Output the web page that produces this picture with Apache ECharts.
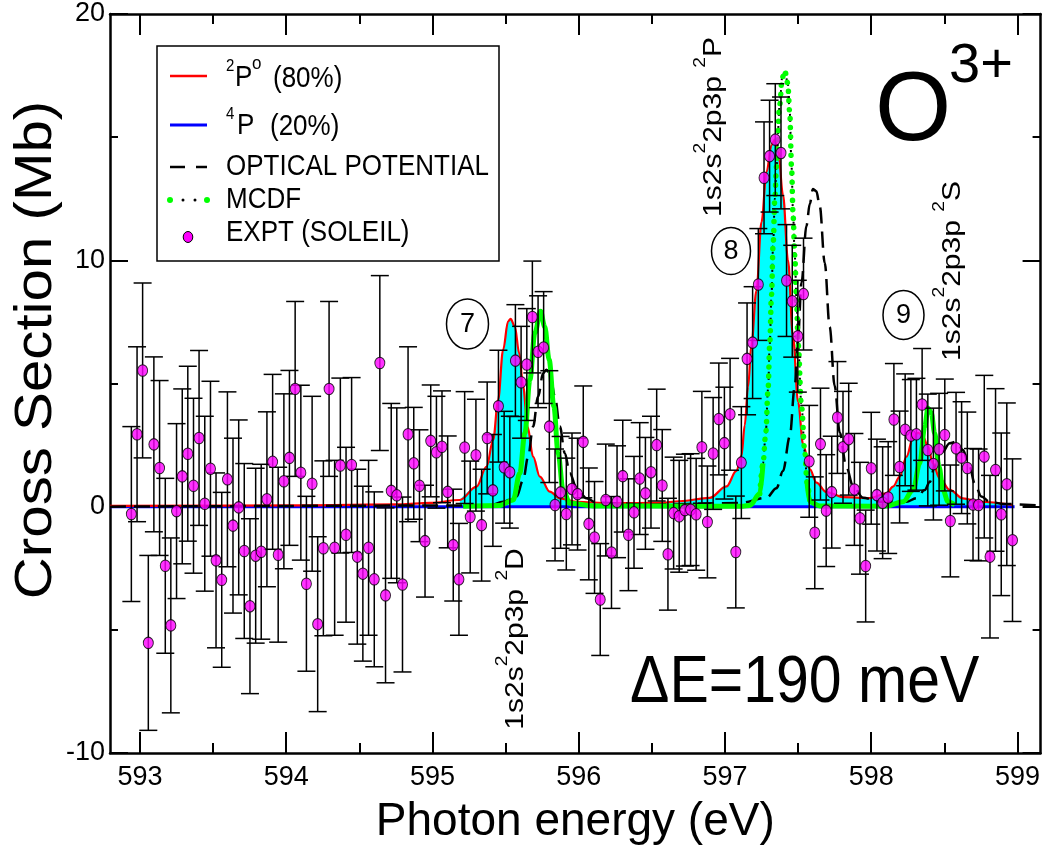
<!DOCTYPE html>
<html>
<head>
<meta charset="utf-8">
<script src="https://cdn.jsdelivr.net/npm/echarts@6/dist/echarts.min.js"></script>
<style>
  html, body { margin: 0; padding: 0; background: #fff; }
  #main { width: 1043px; height: 850px; }
</style>
</head>
<body>
<div id="main"></div>
<script>
// photon energy grid of the SOLEIL measurement (eV)
const energy = [
  592.941, 592.980, 593.018, 593.057, 593.095, 593.134, 593.173, 593.211, 593.250, 593.289,
  593.327, 593.366, 593.404, 593.443, 593.482, 593.520, 593.559, 593.598, 593.636, 593.675,
  593.713, 593.752, 593.791, 593.829, 593.868, 593.907, 593.945, 593.984, 594.022, 594.061,
  594.100, 594.138, 594.177, 594.215, 594.254, 594.293, 594.331, 594.370, 594.409, 594.447,
  594.486, 594.524, 594.563, 594.602, 594.640, 594.679, 594.718, 594.756, 594.795, 594.833,
  594.872, 594.911, 594.949, 594.988, 595.027, 595.065, 595.104, 595.142, 595.181, 595.220,
  595.258, 595.297, 595.336, 595.374, 595.413, 595.451, 595.490, 595.529, 595.567, 595.606,
  595.645, 595.683, 595.722, 595.760, 595.799, 595.838, 595.876, 595.915, 595.954, 595.992,
  596.031, 596.069, 596.108, 596.147, 596.185, 596.224, 596.262, 596.301, 596.340, 596.378,
  596.417, 596.456, 596.494, 596.533, 596.571, 596.610, 596.649, 596.687, 596.726, 596.765,
  596.803, 596.842, 596.880, 596.919, 596.958, 596.996, 597.035, 597.074, 597.112, 597.151,
  597.189, 597.228, 597.267, 597.305, 597.344, 597.383, 597.421, 597.460, 597.498, 597.537,
  597.576, 597.614, 597.653, 597.692, 597.730, 597.769, 597.807, 597.846, 597.885, 597.923,
  597.962, 598.000, 598.039, 598.078, 598.116, 598.155, 598.194, 598.232, 598.271, 598.309,
  598.348, 598.387, 598.425, 598.464, 598.503, 598.541, 598.580, 598.618, 598.657, 598.696,
  598.734, 598.773, 598.812, 598.850, 598.889, 598.927, 598.966
]
// cross section (Mb)
const crossSection = [
  -0.30, 2.94, 5.53, -5.53, 2.53, 1.57, -2.40, -4.82, -0.18, 1.23,
  2.15, 0.85, 2.79, 0.12, 1.54, -2.18, -2.97, 1.11, -0.77, -0.03,
  -1.80, -4.04, -1.99, -1.83, 0.30, 1.82, -1.95, 1.03, 1.98, 4.78,
  1.38, -3.13, 0.93, -4.77, -1.69, 4.78, -1.67, 1.67, -1.14, 1.69,
  -2.03, -2.72, -1.67, -2.95, 5.83, -3.60, 0.64, 0.46, -3.16, 2.94,
  1.76, 0.85, -1.40, 2.67, 2.21, 2.43, 0.60, -1.56, -2.95, 2.40,
  -0.42, 2.09, -0.75, 2.79, 0.66, 4.08, 1.60, 1.40, 5.93, 5.05,
  5.77, 7.70, 6.29, 6.46, 3.25, 0.07, 0.58, -0.30, 0.72, 0.51,
  2.63, -0.70, -1.25, -3.77, 0.27, -1.86, 0.20, 1.24, -1.14, -0.23,
  1.14, 0.54, 1.40, 2.50, 0.86, -1.93, -0.26, -0.39, -0.14, -0.12,
  -0.31, 2.41, -0.62, 2.16, 3.56, 2.58, 3.75, -1.84, 1.79, 6.00,
  6.66, 9.02, 13.35, 14.23, 14.90, 14.36, 9.18, 8.34, 6.92, 8.63,
  1.84, -1.06, 2.54, -0.16, 0.59, 3.62, 2.41, 2.74, 0.70, -0.47,
  -2.41, 1.56, 0.47, 0.16, 0.37, 3.54, 1.61, 3.12, 2.89, 2.94,
  4.15, 2.30, 1.73, 2.33, 2.91, -0.58, 2.37, 1.99, 1.57, 0.09,
  0.07, 2.03, -2.03, 1.49, -0.31, 0.91, -1.36
]
// half height of the error bars (Mb)
const errorBar = [
  3.55, 3.55, 3.55, 3.55, 3.55, 3.55, 3.55, 3.55, 3.55, 3.55,
  3.55, 3.55, 3.55, 3.55, 3.55, 3.55, 3.55, 3.55, 3.55, 3.55,
  3.55, 3.55, 3.55, 3.55, 3.55, 3.55, 3.55, 3.55, 3.55, 3.55,
  3.55, 3.55, 3.55, 3.55, 3.55, 3.55, 3.55, 3.55, 3.55, 3.55,
  3.55, 3.55, 3.55, 3.55, 3.55, 3.55, 3.55, 3.55, 3.55, 3.55,
  2.27, 2.27, 2.27, 2.27, 2.27, 2.27, 2.27, 2.27, 2.27, 2.27,
  2.27, 2.27, 2.27, 2.27, 2.27, 2.27, 2.27, 2.27, 2.27, 2.27,
  2.27, 2.27, 2.27, 2.27, 2.27, 2.27, 2.27, 2.27, 2.27, 2.27,
  2.27, 2.27, 2.27, 2.27, 2.27, 2.27, 2.27, 2.27, 2.27, 2.27,
  2.27, 2.27, 2.27, 2.27, 2.27, 2.27, 2.27, 2.27, 2.27, 2.27,
  2.27, 2.27, 2.27, 2.27, 2.27, 2.27, 2.27, 2.27, 2.27, 2.27,
  2.27, 2.27, 2.27, 2.27, 2.27, 2.27, 2.27, 2.27, 2.27, 2.27,
  2.27, 2.27, 2.27, 2.27, 2.27, 2.27, 2.27, 2.27, 2.27, 2.27,
  2.27, 2.27, 2.27, 2.27, 2.27, 2.27, 2.27, 2.27, 2.27, 2.27,
  2.27, 2.27, 2.27, 2.27, 2.27, 2.27, 2.27, 2.27, 2.27, 2.27,
  2.27, 3.30, 3.30, 3.30, 3.30, 3.30, 3.30
]

// theory curves, [eV, Mb]
const red2P = [
  [592.795, 0.03], [594.094, 0.05], [594.777, 0.09], [594.982, 0.15], [595.187, 0.27],
  [595.301, 0.81], [595.370, 1.63], [595.415, 2.71], [595.449, 4.34], [595.483, 6.37],
  [595.517, 7.52], [595.534, 7.62], [595.563, 7.32], [595.593, 6.23], [595.620, 4.88],
  [595.650, 3.25], [595.688, 2.03], [595.734, 1.22], [595.802, 0.61], [595.871, 0.34],
  [595.985, 0.20], [596.213, 0.14], [596.554, 0.15], [596.691, 0.22], [596.896, 0.36],
  [597.010, 0.82], [597.078, 1.45], [597.113, 2.07], [597.135, 3.30], [597.158, 4.87],
  [597.181, 6.58], [597.215, 8.76], [597.250, 11.56], [597.284, 13.58], [597.318, 14.67],
  [597.340, 14.90], [597.363, 14.50], [597.397, 12.65], [597.431, 10.00], [597.465, 6.90],
  [597.500, 4.25], [597.534, 2.54], [597.580, 1.52], [597.625, 0.98], [597.694, 0.59],
  [597.807, 0.39], [597.990, 0.35], [598.104, 0.54], [598.149, 0.81], [598.195, 1.22],
  [598.241, 2.03], [598.286, 2.80], [598.320, 3.00], [598.354, 2.85], [598.388, 2.44],
  [598.422, 1.76], [598.468, 1.15], [598.537, 0.68], [598.627, 0.34], [598.742, 0.20],
  [598.967, 0.07]
]
const blue4P = [[592.795, 0.0], [598.980, 0.0]]
const optical = [
  [592.795, 0.00], [595.392, 0.05], [595.483, 0.20], [595.575, 0.41], [595.620, 1.08],
  [595.654, 2.03], [595.688, 3.25], [595.722, 4.47], [595.757, 5.42], [595.780, 5.56],
  [595.807, 5.28], [595.837, 4.47], [595.871, 3.25], [595.905, 2.17], [595.939, 1.36],
  [595.985, 0.75], [596.053, 0.34], [596.122, 0.16], [596.486, 0.08], [597.101, 0.15],
  [597.284, 0.36], [597.352, 0.75], [597.397, 1.45], [597.443, 2.85], [597.477, 4.87],
  [597.500, 6.90], [597.523, 9.08], [597.557, 11.40], [597.580, 12.30], [597.602, 12.90],
  [597.625, 12.80], [597.648, 12.20], [597.682, 9.90], [597.716, 7.30], [597.750, 4.90],
  [597.785, 3.00], [597.830, 1.60], [597.876, 0.83], [597.944, 0.36], [598.058, 0.20],
  [598.241, 0.20], [598.309, 0.34], [598.366, 0.68], [598.400, 1.00], [598.434, 1.63],
  [598.480, 2.17], [598.537, 2.57], [598.583, 2.64], [598.627, 2.30], [598.673, 1.63],
  [598.707, 0.95], [598.753, 0.41], [598.810, 0.20], [598.901, 0.11], [599.158, 0.05]
]
const mcdf = [
  [595.210, 0.02], [595.461, 0.05], [595.552, 0.27], [595.597, 1.36], [595.632, 2.98],
  [595.666, 5.15], [595.700, 7.05], [595.739, 7.93], [595.768, 7.30], [595.798, 5.96],
  [595.830, 4.07], [595.859, 2.17], [595.893, 0.68], [595.939, 0.14], [596.098, 0.03],
  [596.828, 0.02], [597.124, 0.02], [597.169, 0.05], [597.238, 0.52], [597.260, 1.76],
  [597.279, 3.00], [597.295, 4.80], [597.306, 6.60], [597.318, 8.60], [597.329, 10.60],
  [597.341, 12.50], [597.352, 13.80], [597.374, 16.30], [597.391, 17.40], [597.409, 17.70],
  [597.429, 17.20], [597.443, 16.00], [597.455, 13.80], [597.466, 11.80], [597.477, 10.20],
  [597.490, 8.30], [597.500, 6.60], [597.523, 4.10], [597.546, 2.22], [597.561, 0.99],
  [597.580, 0.20], [597.648, 0.03], [597.990, 0.02], [598.104, 0.03], [598.218, 0.20],
  [598.286, 0.68], [598.332, 1.76], [598.366, 3.25], [598.388, 4.00], [598.411, 3.80],
  [598.434, 2.98], [598.463, 1.63], [598.491, 0.68], [598.525, 0.20], [598.571, 0.07]
]

const xMajor = [593, 594, 595, 596, 597, 598, 599]
const xMinor = [593.5, 594.5, 595.5, 596.5, 597.5, 598.5]

const SANS = "'Liberation Sans', Arial, Helvetica, sans-serif"

const expt = energy.map((e, i) => [e, crossSection[i], errorBar[i]])
const cyanPart = red2P.filter(p => p[0] >= 595.18)
const mcdfLeft = mcdf.filter(p => p[0] <= 597.262)
const mcdfPeak = mcdf.filter(p => p[0] >= 597.238 && p[0] <= 597.581)
const mcdfRight = mcdf.filter(p => p[0] >= 597.561)

const X_MIN = 592.795, X_MAX = 599.158

const xAxisBase = (pos, ticks, len, withLine, withLabel) => ({
  type: 'value', position: pos, min: X_MIN, max: X_MAX,
  splitLine: {show: false},
  axisLine: {show: withLine, onZero: false, lineStyle: {color: '#000', width: 2.5}},
  axisTick: {show: true, inside: true, length: len, customValues: ticks, lineStyle: {color: '#000', width: 2}},
  axisLabel: withLabel
    ? {show: true, customValues: ticks, fontSize: 27, fontFamily: SANS, color: '#000', margin: 11}
    : {show: false}
})

const yAxisBase = (pos, withLabel) => ({
  type: 'value', position: pos, min: -10, max: 20, interval: 10,
  splitLine: {show: false},
  axisLine: {show: true, onZero: false, lineStyle: {color: '#000', width: 2.5}},
  axisTick: {show: true, inside: true, length: 18, lineStyle: {color: '#000', width: 2}},
  minorTick: {show: true, splitNumber: 2, length: 8, lineStyle: {color: '#000', width: 2}},
  axisLabel: withLabel
    ? {show: true, fontSize: 27, fontFamily: SANS, color: '#000', margin: 5}
    : {show: false}
})

const line = (data, color, width, extra) => Object.assign({
  type: 'line', data: data, showSymbol: false, symbol: 'none',
  smooth: 0.35, smoothMonotone: 'x', silent: true,
  lineStyle: {color: color, width: width}
}, extra || {})

// plain text; sy stretches it vertically a little like the original lettering
const txt = (x, y, text, size, sy, align) => ({
  type: 'text', x: x, y: y, scaleY: sy || 1, z: 20,
  style: {text: text, fontSize: size, fontFamily: SANS, fill: '#000', align: align || 'left', verticalAlign: 'middle'}
})

const stateLabel = (x, y, term) => ({
  type: 'text', x: x, y: y, rotation: Math.PI / 2, scaleX: 1.2, z: 20,
  style: {
    text: '{m|1s2s}{s|2}{m|2p3p }{s|2}{m|' + term + '}',
    align: 'center', verticalAlign: 'middle', fill: '#000',
    rich: {
      m: {fontSize: 25, fontFamily: SANS, verticalAlign: 'bottom', lineHeight: 34},
      s: {fontSize: 16, fontFamily: SANS, verticalAlign: 'top'}
    }
  }
})

const circled = (cx, cy, rx, ry, label) => [
  {type: 'ellipse', z: 19, shape: {cx: cx, cy: cy, rx: rx, ry: ry}, style: {fill: '#fff', stroke: '#000', lineWidth: 1.5}},
  txt(cx, cy + 1, label, 27, 1, 'center')
]

const chart = echarts.init(document.getElementById('main'))

chart.setOption({
  animation: false,
  backgroundColor: '#fff',
  grid: {left: 110, right: 2, top: 14, bottom: 96, containLabel: false},
  xAxis: [
    Object.assign(xAxisBase('bottom', xMajor, 21, true, true), {
      name: 'Photon energy (eV)', nameLocation: 'middle', nameGap: 46,
      nameTextStyle: {fontSize: 46, fontFamily: SANS, color: '#000'}
    }),
    xAxisBase('bottom', xMinor, 10, false, false),
    xAxisBase('top', xMajor, 21, true, false),
    xAxisBase('top', xMinor, 10, false, false)
  ],
  yAxis: [yAxisBase('left', true), yAxisBase('right', false)],
  series: [
    // cyan fill below the 2P curve
    line(cyanPart, '#00ffff', 0, {z: 1, areaStyle: {color: '#00ffff', opacity: 1}}),
    line(blue4P, '#0000ff', 3, {z: 2, smooth: false}),
    line(red2P, '#ff0000', 2.2, {z: 3}),
    line(optical, '#000', 2.5, {z: 4, lineStyle: {color: '#000', width: 2.5, type: [16, 8]}}),
    // MCDF: black dotted line with dense green dots
    line(mcdf, '#000', 2, {z: 5, lineStyle: {color: '#000', width: 2, type: [2, 4]}}),
    line(mcdfLeft, '#00ff00', 5, {z: 6}),
    line(mcdfRight, '#00ff00', 5, {z: 6}),
    line(mcdfPeak, '#00ff00', 5.5, {z: 6, lineStyle: {color: '#00ff00', width: 5.5, type: [0.1, 9], cap: 'round'}}),
    {
      type: 'custom', z: 7, silent: true,
      data: expt,
      encode: {x: 0, y: 1},
      renderItem: (params, api) => {
        const e = api.value(0), v = api.value(1), err = api.value(2)
        const top = api.coord([e, v + err])
        const bot = api.coord([e, v - err])
        const st = {stroke: '#000', lineWidth: 1.5}
        return {
          type: 'group',
          children: [
            {type: 'line', shape: {x1: top[0], y1: top[1], x2: bot[0], y2: bot[1]}, style: st},
            {type: 'line', shape: {x1: top[0] - 9, y1: top[1], x2: top[0] + 9, y2: top[1]}, style: st},
            {type: 'line', shape: {x1: bot[0] - 9, y1: bot[1], x2: bot[0] + 9, y2: bot[1]}, style: st}
          ]
        }
      }
    },
    {
      type: 'scatter', z: 8, silent: true,
      data: expt.map(p => [p[0], p[1]]),
      symbol: 'circle', symbolSize: [10, 11.5],
      itemStyle: {color: '#ff00ff', borderColor: '#000', borderWidth: 1}
    }
  ],
  graphic: [
    // y axis title
    {
      type: 'text', x: 37, y: 350, rotation: Math.PI / 2, scaleX: 1.12, z: 20,
      style: {text: 'Cross Section (Mb)', fontSize: 52, fontFamily: SANS, fill: '#000', align: 'center', verticalAlign: 'middle'}
    },
    // legend box
    {type: 'rect', z: 15, shape: {x: 157, y: 46, width: 342, height: 215}, style: {fill: '#fff', stroke: '#000', lineWidth: 1.5}},
    {type: 'line', z: 16, shape: {x1: 170, y1: 76, x2: 207, y2: 76}, style: {stroke: '#ff0000', lineWidth: 2.5}},
    {type: 'line', z: 16, shape: {x1: 170, y1: 125, x2: 207, y2: 125}, style: {stroke: '#0000ff', lineWidth: 3}},
    {type: 'line', z: 16, shape: {x1: 170, y1: 167, x2: 185, y2: 167}, style: {stroke: '#000', lineWidth: 2.5}},
    {type: 'line', z: 16, shape: {x1: 196, y1: 167, x2: 207, y2: 167}, style: {stroke: '#000', lineWidth: 2.5}},
    {type: 'circle', z: 16, shape: {cx: 170, cy: 200, r: 3}, style: {fill: '#00ff00'}},
    {type: 'circle', z: 16, shape: {cx: 183, cy: 200, r: 1.5}, style: {fill: '#000'}},
    {type: 'circle', z: 16, shape: {cx: 195, cy: 200, r: 1.5}, style: {fill: '#000'}},
    {type: 'circle', z: 16, shape: {cx: 207, cy: 200, r: 3}, style: {fill: '#00ff00'}},
    {type: 'ellipse', z: 16, shape: {cx: 188, cy: 237, rx: 4.8, ry: 5.5}, style: {fill: '#ff00ff', stroke: '#000', lineWidth: 1}},
    txt(226, 66, '2', 15, 1.1),
    txt(235, 78.5, 'P', 26, 1.1),
    txt(252, 64, 'o', 17, 1.1),
    txt(273, 79, '(80%)', 26, 1.1),
    txt(226, 114, '4', 15, 1.1),
    txt(237, 126.5, 'P', 26, 1.1),
    txt(270, 127, '(20%)', 26, 1.1),
    txt(226, 167.5, 'OPTICAL POTENTIAL', 26, 1.1),
    txt(226, 200.5, 'MCDF', 26, 1.1),
    txt(226, 233, 'EXPT (SOLEIL)', 26, 1.1),
    // ion and resolution
    txt(875, 113, 'O', 98, 1),
    txt(949, 67, '3+', 56, 1),
    txt(630, 684, 'ΔE=190 meV', 59, 1.12),
    // resonance labels
    ...circled(467.5, 324, 21, 25, '7'),
    ...circled(731, 251, 19.5, 23.5, '8'),
    ...circled(903.5, 315, 20.5, 24.5, '9'),
    stateLabel(511.6, 639, 'D'),
    stateLabel(710, 127, 'P'),
    stateLabel(948.3, 271, 'S')
  ]
})
</script>
</body>
</html>
